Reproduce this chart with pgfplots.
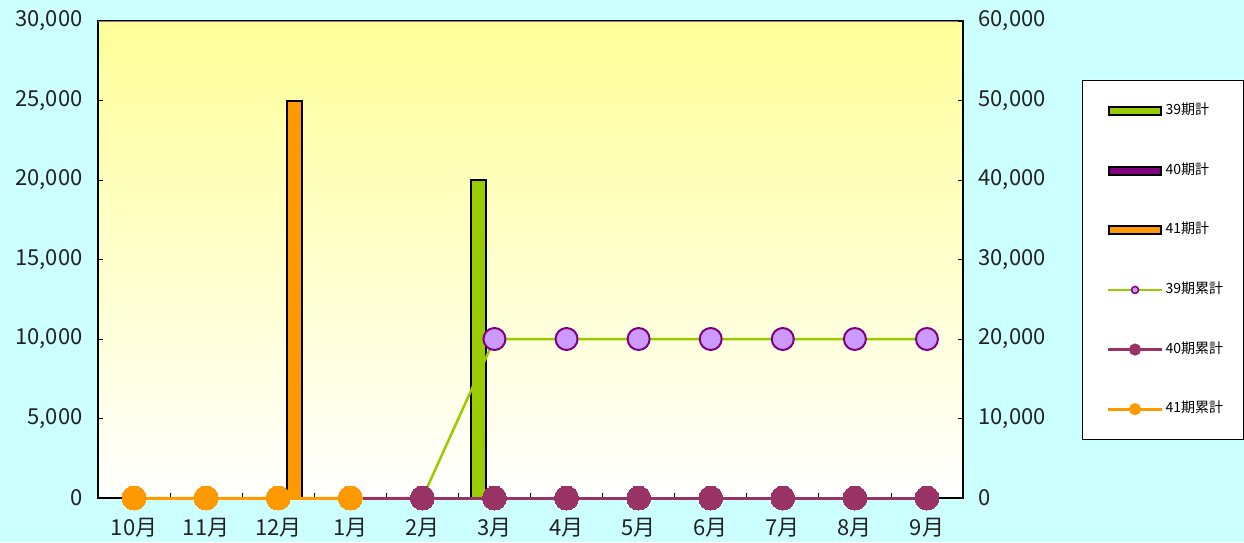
\documentclass[border=0pt]{standalone}
\usepackage{fontspec}
\setmainfont{Noto Sans CJK JP}
\usepackage{pgfplots}
\pgfplotsset{compat=1.18}
\definecolor{bgcyan}{HTML}{CCFFFF}
\definecolor{cgreen}{HTML}{99CC00}
\definecolor{cpurple}{HTML}{800080}
\definecolor{corange}{HTML}{FF9900}
\definecolor{cmaroon}{HTML}{993366}
\definecolor{clilac}{HTML}{CC99FF}
\definecolor{cyellow}{HTML}{FFFF99}
\definecolor{ctext}{HTML}{222222}
\begin{document}
\begin{tikzpicture}
\fill[bgcyan] (0,0) rectangle (1244pt,542pt);
\pgfplotsset{
  base/.style={
    at={(98pt,44pt)}, anchor=south west, scale only axis,
    width=865pt, height=477pt,
    xmin=-0.5, xmax=11.5,
    tick align=inside,
    major tick length=5pt, minor tick length=5pt,
    tick style={black, line width=0.8pt},
    ticklabel style={font=\fontsize{22}{24}\selectfont, text=ctext},
    /pgf/number format/assume math mode=true,
    scaled y ticks=false,
    yticklabel={\pgfmathprintnumber[fixed,1000 sep={,}]{\tick}},
    axis line style={black, line width=1.2pt},
  }
}
\begin{axis}[base,
  ymin=0, ymax=30000, ytick={0,5000,...,30000},
  xtick pos=bottom, ytick pos=left,
  xtick={0,...,11},
  xticklabels={10月,11月,12月,1月,2月,3月,4月,5月,6月,7月,8月,9月},
  major x tick style={draw=none},
  minor xtick={-0.5,0.5,...,11.5},
  yticklabel style={xshift=-12pt},
  xticklabel style={yshift=-17pt},
  axis background/.style={top color=cyellow, bottom color=white},
]
% 39期計
\addplot[ybar, bar width=15pt, bar shift=-16pt, fill=cgreen, draw=black, line width=2pt] coordinates {(5,20000)};
% 41期計
\addplot[ybar, bar width=15pt, bar shift=16pt, fill=corange, draw=black, line width=2pt] coordinates {(2,25000)};
\draw[gray, line width=1.2pt] (rel axis cs:0,1) -- (rel axis cs:1,1);
\end{axis}
\begin{axis}[base,
  ymin=0, ymax=60000, ytick={0,10000,...,60000},
  hide x axis, axis y line*=right,
  yticklabel style={xshift=12pt},
  clip=false,
  legend cell align=left,
  legend style={at={(1.1376,0.876)}, anchor=north west, draw=black, line width=1pt,
    fill=white, font=\fontsize{14}{16}\selectfont, text=black,
    inner xsep=24pt, inner ysep=22pt, row sep=42.6pt,
    nodes={inner sep=2pt, text width=52pt, text height=10pt, text depth=3pt}},
]
\addlegendimage{legend image code/.code={\draw[fill=cgreen, draw=black, line width=2.2pt] (1pt,-4pt) rectangle (53pt,4pt);}}
\addlegendentry{39期計}
\addlegendimage{legend image code/.code={\draw[fill=cpurple, draw=black, line width=2.2pt] (1pt,-4pt) rectangle (53pt,4pt);}}
\addlegendentry{40期計}
\addlegendimage{legend image code/.code={\draw[fill=corange, draw=black, line width=2.2pt] (1pt,-4pt) rectangle (53pt,4pt);}}
\addlegendentry{41期計}
% 39期累計
\addplot[cgreen, line width=2.5pt, mark=*, mark size=11pt,
  mark options={fill=clilac, draw=cpurple, line width=2pt},
  legend image code/.code={\draw[cgreen, line width=2.5pt] (0pt,0pt) -- (54pt,0pt);
    \draw[fill=clilac, draw=cpurple, line width=1.5pt] (27pt,0pt) circle (3.5pt);}]
  coordinates {(0,0) (1,0) (2,0) (3,0) (4,0) (5,20000) (6,20000) (7,20000) (8,20000) (9,20000) (10,20000) (11,20000)};
\addlegendentry{39期累計}
% 40期累計
\addplot[cmaroon, line width=3pt, mark=*, mark size=12pt,
  mark options={fill=cmaroon, draw=cmaroon, line width=0pt},
  legend image code/.code={\draw[cmaroon, line width=3pt] (0pt,0pt) -- (54pt,0pt);
    \fill[cmaroon] (27pt,0pt) circle (4.5pt);}]
  coordinates {(0,0) (1,0) (2,0) (3,0) (4,0) (5,0) (6,0) (7,0) (8,0) (9,0) (10,0) (11,0)};
\addlegendentry{40期累計}
% 41期累計
\addplot[corange, line width=3pt, mark=*, mark size=12pt,
  mark options={fill=corange, draw=corange, line width=0pt},
  legend image code/.code={\draw[corange, line width=3pt] (0pt,0pt) -- (54pt,0pt);
    \fill[corange] (27pt,0pt) circle (4.5pt);}]
  coordinates {(0,0) (1,0) (2,0) (3,0)};
\addlegendentry{41期累計}
\end{axis}
\pgfresetboundingbox
\useasboundingbox (0,0) rectangle (1244pt,542pt);
\end{tikzpicture}
\end{document}
